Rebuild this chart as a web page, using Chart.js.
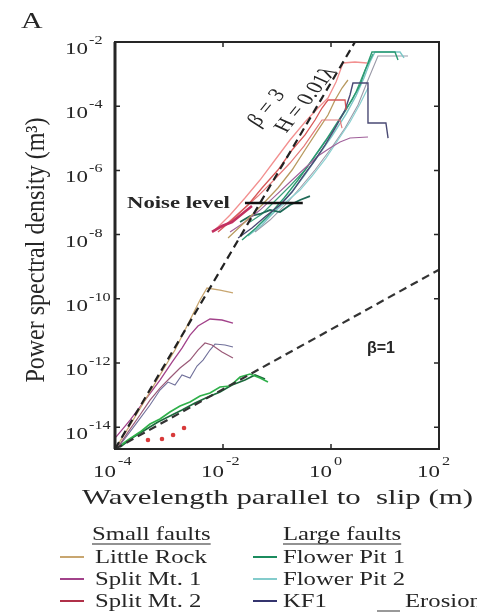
<!DOCTYPE html>
<html>
<head>
<meta charset="utf-8">
<script src="https://cdn.jsdelivr.net/npm/chart.js@4.4.1/dist/chart.umd.min.js"></script>
<style>
  body { margin: 0; background: #fff; }
  #grafico { display: block; }
</style>
</head>
<body>
<canvas id="grafico" width="477" height="613"></canvas>
<script>
// axis ticks
const xTickValues = [1e-4, 1e-2, 1e0, 1e2];
const xTickExps = ["-4", "-2", "0", "2"];
const yTickValues = [1e-2, 1e-4, 1e-6, 1e-8, 1e-10, 1e-12, 1e-14];
const yTickExps = ["-2", "-4", "-6", "-8", "-10", "-12", "-14"];

// reference slopes
const beta3X = [1e-4, 2.78];
const beta3Y = [2.1e-15, 1e-2];
const beta1X = [1e-4, 1e2];
const beta1Y = [2.1e-15, 8.1e-10];
const noiseX = [2.55e-2, 0.30];
const noiseY = [9.64e-8, 9.64e-8];

// small faults (short wavelengths)
const littleRockX = [1.09e-4, 1.90e-4, 3.60e-4, 6.81e-4, 1.29e-3, 2.45e-3, 3.75e-3, 5.06e-3, 8.80e-3, 1.53e-2];
const littleRockY = [2.59e-15, 1.17e-14, 7.03e-14, 4.23e-13, 2.54e-12, 2.19e-11, 9.18e-11, 2.17e-10, 1.88e-10, 1.52e-10];
const splitMt1X = [1.04e-4, 1.90e-4, 3.60e-4, 6.81e-4, 1.14e-3, 1.74e-3, 2.45e-3, 3.44e-3, 5.74e-3, 9.58e-3, 1.53e-2];
const splitMt1Y = [4.95e-15, 1.67e-14, 7.03e-14, 2.95e-13, 1.07e-12, 2.93e-12, 7.45e-12, 1.42e-11, 2.35e-11, 2.19e-11, 1.76e-11];
const splitMt2X = [1.14e-4, 1.74e-4, 2.90e-4, 4.45e-4, 6.81e-4, 1.04e-3, 1.60e-3, 2.45e-3, 3.44e-3, 4.64e-3, 6.25e-3, 9.58e-3, 1.53e-2];
const splitMt2Y = [2.41e-15, 7.08e-15, 2.40e-14, 7.03e-14, 1.66e-13, 3.41e-13, 6.98e-13, 1.24e-12, 2.54e-12, 4.20e-12, 3.64e-12, 2.20e-12, 1.43e-12];
const kf1SmallX = [1.24e-4, 2.35e-4, 4.45e-4, 6.81e-4, 9.58e-4, 1.29e-3, 1.74e-3, 2.45e-3, 3.30e-3, 4.27e-3, 5.74e-3, 7.11e-3, 1.09e-2, 1.53e-2];
const kf1SmallY = [2.79e-15, 1.17e-14, 4.92e-14, 1.44e-13, 2.56e-13, 2.06e-13, 4.23e-13, 3.41e-13, 8.07e-13, 1.24e-12, 2.54e-12, 3.91e-12, 3.64e-12, 3.15e-12];
const flowerSmallAX = [1.14e-4, 1.74e-4, 2.90e-4, 4.45e-4, 6.81e-4, 1.04e-3, 1.60e-3, 2.45e-3, 3.75e-3, 5.74e-3, 8.80e-3, 1.35e-2, 2.07e-2, 3.16e-2, 4.84e-2, 6.81e-2];
const flowerSmallAY = [2.41e-15, 3.99e-15, 7.08e-15, 1.26e-14, 1.80e-14, 2.98e-14, 4.57e-14, 6.09e-14, 9.38e-14, 1.16e-13, 1.79e-13, 1.92e-13, 3.66e-13, 4.54e-13, 3.41e-13, 2.56e-13];
const flowerSmallBX = [1.24e-4, 2.07e-4, 3.60e-4, 6.25e-4, 1.04e-3, 1.74e-3, 3.03e-3, 5.27e-3, 8.80e-3, 1.47e-2, 2.55e-2, 3.92e-2, 6.00e-2];
const flowerSmallBY = [2.41e-15, 4.61e-15, 8.18e-15, 1.45e-14, 2.23e-14, 3.43e-14, 5.67e-14, 8.73e-14, 1.25e-13, 2.06e-13, 2.95e-13, 4.23e-13, 3.18e-13];
const erosionX = [4.08e-4, 7.41e-4, 1.19e-3, 1.90e-3];
const erosionY = [3.99e-15, 4.29e-15, 5.71e-15, 9.44e-15];

// large faults (long wavelengths)
const pinkX = [7.11e-3, 1.35e-2, 2.55e-2, 4.84e-2, 9.18e-2, 0.174, 0.330, 0.574, 0.879, 1.24, 1.67, 2.78, 4.64];
const pinkY = [1.39e-8, 4.08e-8, 1.38e-7, 5.02e-7, 2.11e-6, 8.85e-6, 3.22e-5, 8.79e-5, 1.80e-4, 5.67e-4, 2.22e-3, 2.38e-3, 2.22e-3];
const redAX = [8.07e-3, 1.47e-2, 2.90e-2, 5.27e-2, 0.104, 0.190, 0.330, 0.506, 0.681, 0.879, 1.82, 1.90];
const redAY = [1.21e-8, 2.85e-8, 8.35e-8, 2.83e-7, 1.03e-6, 4.32e-6, 1.27e-5, 3.72e-5, 8.79e-5, 1.56e-4, 1.56e-4, 7.62e-5];
const redBX = [9.58e-3, 2.07e-2, 4.45e-2, 8.80e-2, 0.174, 0.316, 0.506, 0.681, 1.47, 1.60];
const redBY = [1.61e-8, 5.06e-8, 1.59e-7, 5.02e-7, 1.70e-6, 5.75e-6, 1.81e-5, 3.72e-5, 3.72e-5, 2.09e-5];
const crimsonStartX = [6.25e-3, 9.58e-3, 1.47e-2, 2.25e-2, 3.44e-2];
const crimsonStartY = [1.21e-8, 1.85e-8, 2.47e-8, 4.39e-8, 7.78e-8];
const tanLargeX = [1.24e-2, 2.55e-2, 5.27e-2, 0.104, 0.190, 0.330, 0.574, 0.879, 1.19, 1.60, 2.06];
const tanLargeY = [7.83e-9, 2.47e-8, 8.35e-8, 2.83e-7, 1.03e-6, 4.32e-6, 1.81e-5, 5.32e-5, 1.56e-4, 3.69e-4, 6.55e-4];
const kf1LargeX = [1.90e-2, 3.44e-2, 6.25e-2, 0.114, 0.190, 0.316, 0.506, 0.774, 1.19, 1.82, 2.25, 2.55, 4.84, 4.84, 10.4, 11.4];
const kf1LargeY = [7.83e-9, 1.61e-8, 3.80e-8, 8.35e-8, 2.12e-7, 7.19e-7, 2.11e-6, 6.18e-6, 2.09e-5, 7.62e-5, 2.23e-4, 5.28e-4, 5.28e-4, 3.00e-5, 3.00e-5, 1.02e-5];
const flower1X = [2.25e-2, 4.08e-2, 7.41e-2, 0.135, 0.245, 0.445, 0.807, 1.47, 2.45, 3.44, 4.45, 5.74, 15.3, 17.4];
const flower1Y = [6.79e-9, 1.61e-8, 4.39e-8, 1.38e-7, 5.02e-7, 2.11e-6, 8.85e-6, 4.29e-5, 1.56e-4, 4.57e-4, 1.55e-3, 4.88e-3, 4.88e-3, 2.75e-3];
const flower1bX = [3.16e-2, 5.27e-2, 9.58e-2, 0.174, 0.330, 0.574, 1.04, 1.90, 2.90, 4.27, 6.00];
const flower1bY = [2.47e-8, 4.39e-8, 1.20e-7, 3.27e-7, 1.03e-6, 3.74e-6, 1.57e-5, 7.62e-5, 2.77e-4, 1.34e-3, 4.23e-3];
const flower2X = [2.90e-2, 5.27e-2, 9.58e-2, 0.174, 0.316, 0.574, 1.04, 1.90, 2.90, 4.08, 5.27, 6.53, 19.0, 22.5];
const flower2Y = [9.04e-9, 1.99e-8, 5.83e-8, 1.84e-7, 6.70e-7, 2.81e-6, 1.18e-5, 5.71e-5, 2.08e-4, 7.57e-4, 2.38e-3, 4.88e-3, 4.88e-3, 3.18e-3];
const flower2bX = [4.45e-2, 8.07e-2, 0.147, 0.267, 0.445, 0.807, 1.35, 2.25, 3.44, 4.84];
const flower2bY = [1.85e-8, 4.39e-8, 1.04e-7, 2.45e-7, 6.70e-7, 2.43e-6, 8.85e-6, 3.22e-5, 1.17e-4, 3.69e-4];
const grayX = [3.92e-2, 7.41e-2, 0.141, 0.267, 0.506, 0.957, 1.82, 3.16, 4.84, 7.41, 26.7];
const grayY = [1.21e-8, 2.85e-8, 8.35e-8, 2.83e-7, 1.03e-6, 4.32e-6, 2.09e-5, 1.09e-4, 6.55e-4, 3.66e-3, 3.66e-3];
const purpleLargeX = [1.35e-2, 2.55e-2, 4.84e-2, 9.18e-2, 0.174, 0.330, 0.574, 0.957, 1.47, 2.25, 4.84];
const purpleLargeY = [1.21e-8, 2.47e-8, 5.83e-8, 1.59e-7, 4.36e-7, 1.19e-6, 2.81e-6, 4.99e-6, 7.67e-6, 1.02e-5, 1.10e-5];
const tealX = [2.07e-2, 3.16e-2, 4.84e-2, 7.41e-2, 0.114, 0.174, 0.267, 0.408];
const tealY = [2.47e-8, 3.80e-8, 4.39e-8, 5.83e-8, 5.06e-8, 8.35e-8, 1.20e-7, 1.59e-7];

const colLittleRock = "#c8a670";
const colSplit1 = "#a2428a";
const colSplit2 = "#b03048";
const colFlower1 = "#1b8c5e";
const colFlower2 = "#84cccc";
const colKF1 = "#34346e";

document.addEventListener("DOMContentLoaded", function() {
    drawChart();
})

function points(xs, ys) {
    let list = [];
    for (let i = 0; i < xs.length; i++) {
        list.push({ x: xs[i], y: ys[i] });
    }
    return list;
}

function line(xs, ys, color, width, dash) {
    return {
        data: points(xs, ys),
        borderColor: color,
        backgroundColor: color,
        borderWidth: width,
        borderDash: dash || [],
        showLine: true,
        pointRadius: 0,
        tension: 0
    };
}

function stretched(ctx, str, x, y, font, align, sx, rot) {
    ctx.save();
    ctx.translate(x, y);
    ctx.scale(sx, 1);
    if (rot) ctx.rotate(rot);
    ctx.font = font;
    ctx.textAlign = align;
    ctx.fillText(str, 0, 0);
    ctx.restore();
}

const decorations = {
    id: "decorations",
    afterDraw(chart) {
        const ctx = chart.ctx;
        const a = chart.chartArea;
        const sx = chart.scales.x;
        const sy = chart.scales.y;
        const serif = "'Liberation Serif', 'Times New Roman', serif";
        ctx.save();
        ctx.fillStyle = "#262626";
        ctx.strokeStyle = "#262626";

        // frame
        ctx.lineWidth = 2;
        ctx.strokeRect(a.left, a.top, a.right - a.left, a.bottom - a.top);
        ctx.lineWidth = 3;
        ctx.beginPath();
        ctx.moveTo(a.left, a.top);
        ctx.lineTo(a.left, a.bottom);
        ctx.stroke();

        // ticks
        ctx.lineWidth = 1.5;
        for (let i = 0; i < xTickValues.length; i++) {
            const px = sx.getPixelForValue(xTickValues[i]);
            ctx.beginPath();
            ctx.moveTo(px, a.top); ctx.lineTo(px, a.top + 5);
            ctx.moveTo(px, a.bottom); ctx.lineTo(px, a.bottom - 5);
            ctx.stroke();
            stretched(ctx, "10", px + 1, a.bottom + 28, "17px " + serif, "right", 1.35);
            stretched(ctx, xTickExps[i], px + 3, a.bottom + 16, "12px " + serif, "left", 1.35);
        }
        for (let i = 0; i < yTickValues.length; i++) {
            const py = sy.getPixelForValue(yTickValues[i]);
            ctx.beginPath();
            ctx.moveTo(a.left, py); ctx.lineTo(a.left + 5, py);
            ctx.moveTo(a.right, py); ctx.lineTo(a.right - 5, py);
            ctx.stroke();
            stretched(ctx, "10", a.left - 27, py + 12, "17px " + serif, "right", 1.35);
            stretched(ctx, yTickExps[i], a.left - 26, py + 2, "12px " + serif, "left", 1.35);
        }

        // axis titles and panel letter
        stretched(ctx, "A", 21, 28, "23px " + serif, "left", 1.3);
        stretched(ctx, "Power spectral density (m\u00b3)", 44, 250, "24px " + serif, "center", 1.1, -Math.PI / 2);
        stretched(ctx, "Wavelength parallel to  slip (m)", 82, 504, "21px " + serif, "left", 1.47);

        // annotations placed in data coordinates
        stretched(ctx, "Noise level", sx.getPixelForValue(1.67e-4), sy.getPixelForValue(9.64e-8) + 5,
            "bold 16px " + serif, "left", 1.42);
        ctx.textBaseline = "middle";
        stretched(ctx, "\u03b2 = 3", sx.getPixelForValue(6.5e-2), sy.getPixelForValue(8.8e-5),
            "italic 18px " + serif, "center", 1.35, -1.03);
        stretched(ctx, "H = 0.01\u03bb", sx.getPixelForValue(0.344), sy.getPixelForValue(1.56e-4),
            "18px " + serif, "center", 1.35, -1.03);
        ctx.textBaseline = "alphabetic";
        stretched(ctx, "\u03b2=1", sx.getPixelForValue(4.64), sy.getPixelForValue(2.04e-12),
            "bold 16px 'Liberation Sans', Arial, sans-serif", "left", 1);

        // legend
        const f = "19px " + serif;
        const heads = [["Small faults", 92], ["Large faults", 283]];
        for (let i = 0; i < heads.length; i++) {
            stretched(ctx, heads[i][0], heads[i][1], 540, f, "left", 1.3);
            ctx.font = f;
            const w = ctx.measureText(heads[i][0]).width * 1.3;
            ctx.lineWidth = 1.2;
            ctx.beginPath();
            ctx.moveTo(heads[i][1], 544); ctx.lineTo(heads[i][1] + w, 544);
            ctx.stroke();
        }
        const items = [
            ["Little Rock", colLittleRock, 60, 95, 563], ["Split Mt. 1", colSplit1, 60, 95, 585], ["Split Mt. 2", colSplit2, 60, 95, 607],
            ["Flower Pit 1", colFlower1, 253, 283, 563], ["Flower Pit 2", colFlower2, 253, 283, 585], ["KF1", colKF1, 253, 283, 607]
        ];
        for (let i = 0; i < items.length; i++) {
            ctx.strokeStyle = items[i][1];
            ctx.lineWidth = 2;
            ctx.beginPath();
            ctx.moveTo(items[i][2], items[i][4] - 6); ctx.lineTo(items[i][2] + 24, items[i][4] - 6);
            ctx.stroke();
            stretched(ctx, items[i][0], items[i][3], items[i][4], f, "left", 1.3);
        }
        ctx.strokeStyle = "#777";
        ctx.lineWidth = 1.5;
        ctx.beginPath();
        ctx.moveTo(377, 611); ctx.lineTo(400, 611);
        ctx.stroke();
        stretched(ctx, "Erosion", 405, 607, f, "left", 1.3);
        ctx.restore();
    }
};

function drawChart() {
    const ctx = document.getElementById("grafico");
    new Chart(ctx, {
        type: "scatter",
        data: {
            datasets: [
                line(noiseX, noiseY, "#111", 2.6),
                line(beta3X, beta3Y, "#222", 2.2, [8, 5]),
                line(beta1X, beta1Y, "#333", 2.2, [8, 5]),
                line(crimsonStartX, crimsonStartY, "#c23060", 2.6),
                line(pinkX, pinkY, "#f29090", 1.3),
                line(redAX, redAY, "#d85858", 1.3),
                line(redBX, redBY, "#e47a7a", 1.2),
                line(tanLargeX, tanLargeY, "#b89a60", 1.3),
                line(kf1LargeX, kf1LargeY, "#4a4a74", 1.4),
                line(purpleLargeX, purpleLargeY, "#a0609a", 1.1),
                line(tealX, tealY, "#1f6a58", 1.8),
                line(flower1X, flower1Y, "#2a9a72", 1.4),
                line(flower1bX, flower1bY, "#3aa07a", 1.2),
                line(flower2X, flower2Y, "#7cc6c6", 1.4),
                line(flower2bX, flower2bY, "#8ad0d0", 1.2),
                line(grayX, grayY, "#9a9aa8", 1.1),
                line(littleRockX, littleRockY, colLittleRock, 1.3),
                line(splitMt1X, splitMt1Y, colSplit1, 1.3),
                line(splitMt2X, splitMt2Y, "#9a5a78", 1.2),
                line(kf1SmallX, kf1SmallY, "#70709a", 1.1),
                line(flowerSmallAX, flowerSmallAY, "#2fb04a", 1.7),
                line(flowerSmallBX, flowerSmallBY, "#1c6a3c", 1.7),
                {
                    data: points(erosionX, erosionY),
                    showLine: false,
                    pointRadius: 2.3,
                    pointBorderWidth: 0,
                    backgroundColor: "#d83a3a",
                    borderColor: "#d83a3a"
                }
            ]
        },
        options: {
            responsive: false,
            animation: false,
            layout: { padding: { left: 115, top: 42, right: 38, bottom: 164 } },
            plugins: { legend: { display: false }, tooltip: { enabled: false } },
            scales: {
                x: { type: "logarithmic", min: 1e-4, max: 1e2, display: false },
                y: { type: "logarithmic", min: 2.1e-15, max: 1e-2, display: false }
            }
        },
        plugins: [decorations]
    });
}
</script>
</body>
</html>
